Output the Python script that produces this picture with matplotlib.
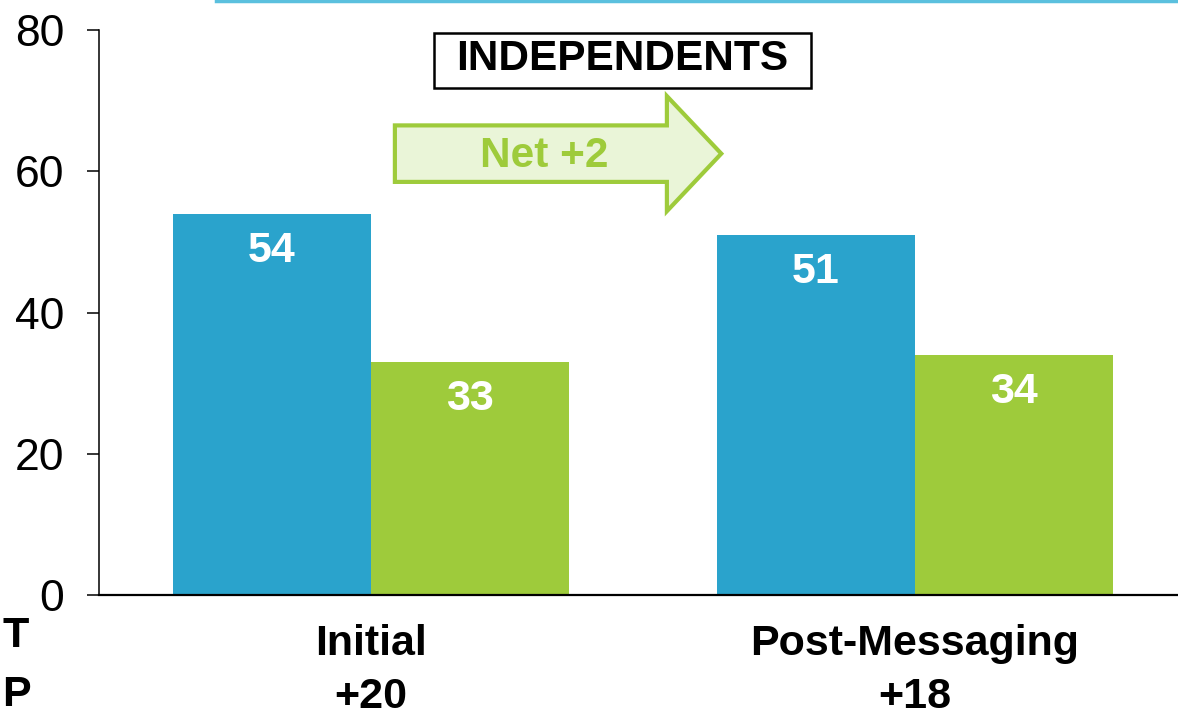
import matplotlib
matplotlib.use("Agg")
import matplotlib.pyplot as plt
from matplotlib.patches import FancyArrow, Rectangle
from matplotlib.lines import Line2D

plt.rcParams['font.family'] = ['Liberation Sans', 'DejaVu Sans']

# data
categories = ["Initial\n+20", "Post-Messaging\n+18"]
blue_vals = [54, 51]
green_vals = [33, 34]
yticks = [0, 20, 40, 60, 80]

blue = "#2AA3CC"
green = "#9ECB3B"

fig = plt.figure(figsize=(11.78, 7.16), dpi=100)
ax = fig.add_axes([0.084, 0.169, 0.9236, 0.789])

w = 0.364
x = [0, 1]
ax.bar([i - w / 2 for i in x], blue_vals, width=w, color=blue)
ax.bar([i + w / 2 for i in x], green_vals, width=w, color=green)

for i in x:
    ax.text(i - w / 2, blue_vals[i] - 5.3, str(blue_vals[i]), ha="center", va="center",
            color="white", fontsize=31, fontweight="bold")
    ax.text(i + w / 2, green_vals[i] - 5.3, str(green_vals[i]), ha="center", va="center",
            color="white", fontsize=31, fontweight="bold")

ax.set_xlim(-0.5, 1.5)
ax.set_ylim(0, 80)
ax.set_yticks(yticks)
ax.set_xticks(x)
ax.set_xticklabels(categories, fontsize=31, fontweight="bold", linespacing=1.4)
ax.tick_params(axis="x", length=0, pad=21)
ax.tick_params(axis="y", length=9, width=1.1, labelsize=32, pad=16)
for s in ["top", "right"]:
    ax.spines[s].set_visible(False)
ax.spines["left"].set_linewidth(1.1)
ax.spines["bottom"].set_linewidth(1.6)

# title box
ax.add_patch(Rectangle((0.116, 71.8), 0.693, 7.8, fc="white", ec="black", lw=1.8,
                       clip_on=False, zorder=3))
ax.text(0.4625, 75.9, "INDEPENDENTS", ha="center", va="center", fontsize=30.5,
        fontweight="bold", zorder=4)

# net change arrow
arr = FancyArrow(0.044, 62.5, 0.60, 0, width=8, head_width=16.3, head_length=0.10,
                 length_includes_head=True, fc="#EAF5D8", ec=green, lw=3, clip_on=False)
ax.add_patch(arr)
ax.text(0.318, 62.2, "Net +2", ha="center", va="center", fontsize=30.5,
        fontweight="bold", color=green)

# top cyan rule and side text at the left edge
fig.add_artist(Line2D([0.183, 1.0], [0.999, 0.999], color="#5BC0DE", lw=2.5))
fig.text(0.002, 0.112, "T", fontsize=31, fontweight="bold", ha="left", va="center")
fig.text(0.002, 0.002, "P", fontsize=31, fontweight="bold", ha="left", va="bottom")

fig.savefig("out.png", dpi=100)
